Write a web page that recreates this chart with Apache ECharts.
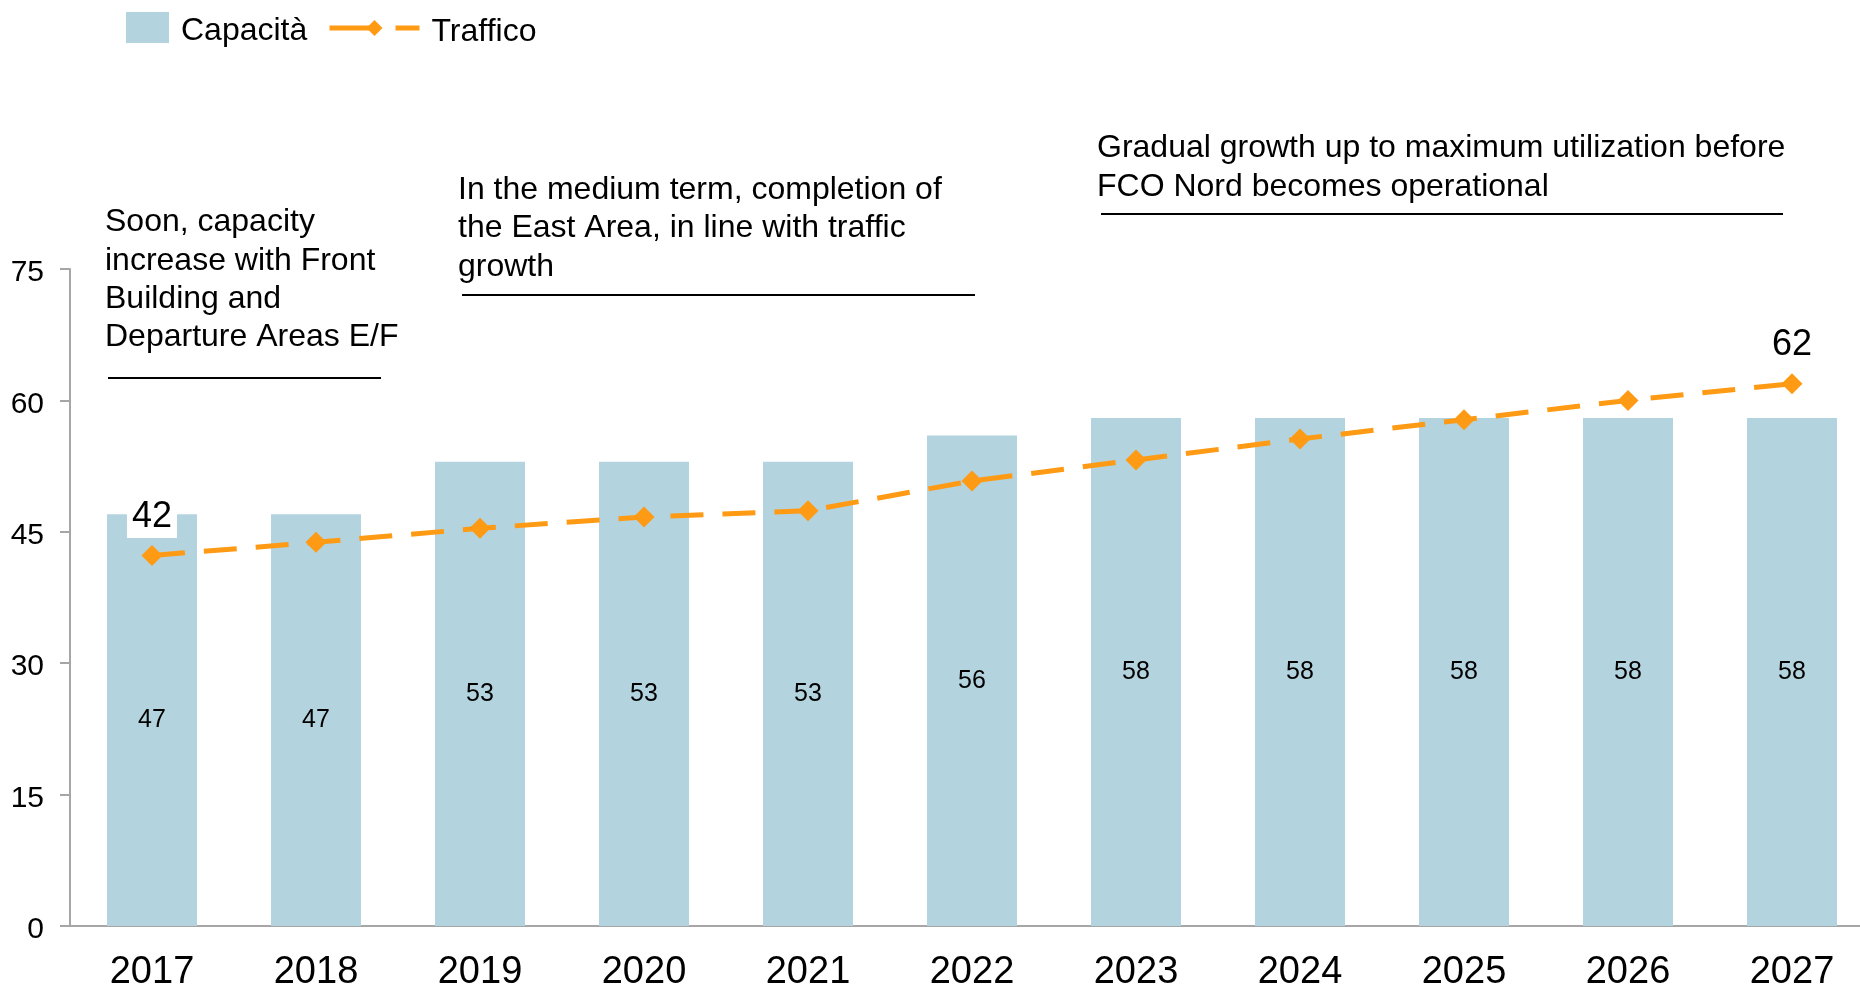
<!DOCTYPE html>
<html>
<head>
<meta charset="utf-8">
<title>Capacità e Traffico</title>
<script src="https://cdn.jsdelivr.net/npm/echarts@6/dist/echarts.min.js"></script>
<style>
    html, body { margin: 0; padding: 0; background: #fff; }
    #chart { width: 1860px; height: 988px; }
</style>
</head>
<body>
<div id="chart"></div>
<script>
// dati
var years = ['2017', '2018', '2019', '2020', '2021', '2022', '2023', '2024', '2025', '2026', '2027'];
var capacita = [47, 47, 53, 53, 53, 56, 58, 58, 58, 58, 58];
var traffico = [42.3, 43.8, 45.4, 46.7, 47.4, 50.8, 53.2, 55.6, 57.8, 60.0, 61.9];
var trafficoLabels = ['42', '', '', '', '', '', '', '', '', '', '62'];
var yTicks = { min: 0, max: 75, interval: 15 };

var font = "'Liberation Sans', Arial, sans-serif";
var barColor = '#b3d3de';
var lineColor = '#ff9a14';

// solo il primo e l'ultimo punto hanno l'etichetta
var trafficoData = traffico.map(function (v, i) {
    var item = { value: v };
    if (trafficoLabels[i] !== '') {
        item.label = {
            show: true,
            position: 'top',
            distance: 7,
            formatter: trafficoLabels[i],
            fontSize: 36,
            fontFamily: font,
            color: '#000',
            backgroundColor: '#fff',
            padding: [0, 5, 3, 5]
        };
    }
    return item;
});

// testo della legenda un po' piu' in basso
var legendText = {
    fontSize: 32, color: '#000', fontFamily: font,
    rich: { t: { fontSize: 32, color: '#000', fontFamily: font, padding: [8, 0, 0, 7] } }
};

var chart = echarts.init(document.getElementById('chart'));
var option = {
    animation: false,
    textStyle: { fontFamily: font },
    legend: [{
        data: [{ name: 'Capacità', icon: 'rect' }],
        left: 126,
        top: 12,
        padding: 0,
        itemWidth: 43,
        itemHeight: 31,
        formatter: '{t|{name}}',
        textStyle: legendText
    }, {
        data: ['Traffico'],
        left: 327,
        top: 16,
        padding: 0,
        itemWidth: 90,
        itemHeight: 20,
        lineStyle: { width: 5, type: [49, 17] },
        formatter: '{t|{name}}',
        textStyle: legendText
    }],
    grid: {
        left: 70,
        width: 1804,
        top: 269,
        bottom: 62,
        outerBoundsMode: 'none'
    },
    xAxis: {
        type: 'category',
        data: years,
        axisLine: { lineStyle: { color: '#a6a6a6', width: 2 } },
        axisTick: { show: false },
        axisLabel: { fontSize: 38, color: '#000', margin: 28, fontFamily: font }
    },
    yAxis: {
        type: 'value',
        min: yTicks.min,
        max: yTicks.max,
        interval: yTicks.interval,
        splitLine: { show: false },
        axisLine: { show: true, lineStyle: { color: '#a6a6a6', width: 2 } },
        axisTick: { show: true, length: 10, lineStyle: { color: '#a6a6a6', width: 2 } },
        axisLabel: {
            fontSize: 30, color: '#000', margin: 26, fontFamily: font,
            formatter: '{v|{value}}',
            rich: { v: { fontSize: 30, color: '#000', fontFamily: font, padding: [8, 0, 0, 0] } }
        }
    },
    series: [{
        name: 'Capacità',
        type: 'bar',
        data: capacita,
        barWidth: 90,
        itemStyle: { color: barColor },
        label: {
            show: true,
            position: 'inside',
            fontSize: 25,
            color: '#000',
            fontFamily: font
        }
    }, {
        name: 'Traffico',
        type: 'line',
        data: trafficoData,
        symbol: 'diamond',
        symbolSize: 21,
        itemStyle: { color: lineColor },
        lineStyle: { color: lineColor, width: 5, type: [33, 19] },
        z: 5
    }],
    // note di testo con sottolineatura
    graphic: [
        {
            type: 'text', x: 105, y: 203.5,
            style: {
                text: 'Soon, capacity\nincrease with Front\nBuilding and\nDeparture Areas E/F',
                fontSize: 32, fontFamily: font, fill: '#000', lineHeight: 38.3,
                align: 'left', verticalAlign: 'top'
            }
        },
        { type: 'line', shape: { x1: 108, y1: 378, x2: 381, y2: 378 }, style: { stroke: '#000', lineWidth: 2 } },
        {
            type: 'text', x: 458, y: 170.5,
            style: {
                text: 'In the medium term, completion of\nthe East Area, in line with traffic\ngrowth',
                fontSize: 32, fontFamily: font, fill: '#000', lineHeight: 38.5,
                align: 'left', verticalAlign: 'top'
            }
        },
        { type: 'line', shape: { x1: 462, y1: 295, x2: 975, y2: 295 }, style: { stroke: '#000', lineWidth: 2 } },
        {
            type: 'text', x: 1097, y: 129.5,
            style: {
                text: 'Gradual growth up to maximum utilization before\nFCO Nord becomes operational',
                fontSize: 32, fontFamily: font, fill: '#000', lineHeight: 38.3,
                align: 'left', verticalAlign: 'top'
            }
        },
        { type: 'line', shape: { x1: 1101, y1: 214, x2: 1783, y2: 214 }, style: { stroke: '#000', lineWidth: 2 } }
    ]
};
chart.setOption(option);
</script>
</body>
</html>
